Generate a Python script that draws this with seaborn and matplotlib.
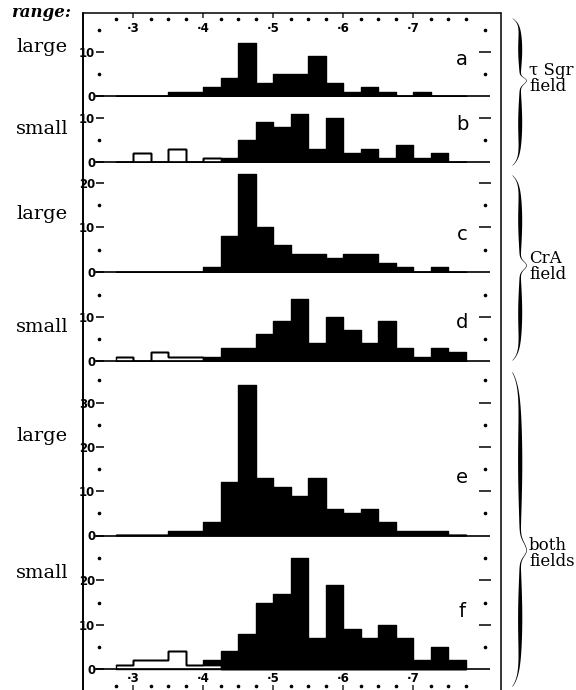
import numpy as np
import pandas as pd
import matplotlib
matplotlib.use("Agg")
import matplotlib.pyplot as plt
from matplotlib.transforms import blended_transform_factory
import seaborn as sns

sns.set_theme(style="white")
plt.rcParams["font.family"] = ["DejaVu Sans"]

# ---- data -----------------------------------------------------------------
# left edges of the magnitude bins (width 0.025)
bin_left = [0.275, 0.300, 0.325, 0.350, 0.375, 0.400, 0.425, 0.450, 0.475, 0.500,
            0.525, 0.550, 0.575, 0.600, 0.625, 0.650, 0.675, 0.700, 0.725, 0.750]
bin_width = 0.025

# counts per bin: filled (black) part and open (outlined) part
a_filled = [0, 0, 0, 1, 1, 2, 4, 12, 3, 5, 5, 9, 3, 1, 2, 1, 0, 1, 0, 0]
a_open   = [0, 0, 0, 0, 0, 0, 0, 0, 0, 0, 0, 0, 0, 0, 0, 0, 0, 0, 0, 0]
b_filled = [0, 0, 0, 0, 0, 0, 1, 5, 9, 8, 11, 3, 10, 2, 3, 1, 4, 1, 2, 0]
b_open   = [0, 2, 0, 3, 0, 1, 0, 0, 0, 0, 0, 0, 0, 0, 0, 0, 0, 0, 0, 0]
c_filled = [0, 0, 0, 0, 0, 1, 8, 22, 10, 6, 4, 4, 3, 4, 4, 2, 1, 0, 1, 0]
c_open   = [0, 0, 0, 0, 0, 0, 0, 0, 0, 0, 0, 0, 0, 0, 0, 0, 0, 0, 0, 0]
d_filled = [0, 0, 0, 0, 0, 1, 3, 3, 6, 9, 14, 4, 10, 7, 4, 9, 3, 1, 3, 2]
d_open   = [1, 0, 2, 1, 1, 0, 0, 0, 0, 0, 0, 0, 0, 0, 0, 0, 0, 0, 0, 0]
e_filled = [0, 0, 0, 1, 1, 3, 12, 34, 13, 11, 9, 13, 6, 5, 6, 3, 1, 1, 1, 0]
e_open   = [0, 0, 0, 0, 0, 0, 0, 0, 0, 0, 0, 0, 0, 0, 0, 0, 0, 0, 0, 0]
f_filled = [0, 0, 0, 0, 0, 1, 4, 8, 15, 17, 25, 7, 19, 9, 7, 10, 7, 2, 5, 2]
f_open   = [1, 2, 2, 4, 1, 1, 0, 0, 0, 0, 0, 0, 0, 0, 0, 0, 0, 0, 0, 0]

panel_letters = ["a", "b", "c", "d", "e", "f"]
range_words = ["large", "small", "large", "small", "large", "small"]
x_tick_values = [0.3, 0.4, 0.5, 0.6, 0.7]
x_tick_labels = ["\u00b73", "\u00b74", "\u00b75", "\u00b76", "\u00b77"]
x_minor_values = [0.275, 0.325, 0.35, 0.375, 0.425, 0.45, 0.475, 0.525, 0.55,
                  0.575, 0.625, 0.65, 0.675, 0.725, 0.75, 0.775]
field_names = ["\u03c4 Sgr\nfield", "CrA\nfield", "both\nfields"]

# ---- layout (pixels) --------------------------------------------------------
W, H = 576, 690
fig = plt.figure(figsize=(W / 100, H / 100), dpi=100)
frame_l, frame_r, frame_t = 82.5, 501.0, 13.0
x_lo, x_hi = 0.2274, 0.8253           # magnitude at frame edges
y_axis_x = 0.2467                     # where the y tick marks sit
base_x0, base_x1 = 0.2453, 0.8096     # extent of the zero lines
px_per_unit = 4.43

# (top, zero line, bottom) of each strip in pixels
strips = [(13, 96, 96), (96, 162.3, 162.3), (162.3, 271.7, 271.7),
          (271.7, 361, 361), (361, 535.5, 535.5), (535.5, 669, 690)]
major_ticks = [[0, 10], [0, 10], [0, 10, 20], [0, 10], [0, 10, 20, 30], [0, 10, 20]]
minor_ticks = [[5, 15], [5], [5, 15], [5, 15], [5, 15, 25, 35], [5, 15, 25]]
filled_sets = [a_filled, b_filled, c_filled, d_filled, e_filled, f_filled]
open_sets = [a_open, b_open, c_open, d_open, e_open, f_open]

edges = bin_left + [bin_left[-1] + bin_width]
centers = [v + bin_width / 2 for v in bin_left]
left_frac = (99 - frame_l) / (frame_r - frame_l)
right_frac = (484.5 - frame_l) / (frame_r - frame_l)

axes = []
for i, (top, base, bot) in enumerate(strips):
    ax = fig.add_axes([frame_l / W, 1 - bot / H, (frame_r - frame_l) / W, (bot - top) / H])
    ax.patch.set_visible(False)
    df = pd.DataFrame({
        "mag": centers + centers,
        "n": open_sets[i] + filled_sets[i],
        "kind": ["open"] * len(centers) + ["filled"] * len(centers),
    })
    # open counts form the bottom layer, filled counts are stacked above them
    sns.histplot(data=df, x="mag", weights="n", hue="kind", hue_order=["filled", "open"],
                 multiple="stack", bins=edges, element="step",
                 palette={"open": "white", "filled": "black"}, edgecolor="black",
                 linewidth=1.0, alpha=1, legend=False, ax=ax)
    ax.set_xlabel("")
    ax.set_ylabel("")
    ax.set_xlim(x_lo, x_hi)
    ax.set_ylim(-(bot - base) / px_per_unit, (base - top) / px_per_unit)
    for s in ax.spines.values():
        s.set_visible(False)
    ax.spines["left"].set_position(("data", y_axis_x))

    # zero line
    ax.hlines(0, base_x0, base_x1, color="black", lw=1.2, clip_on=False, zorder=5)

    # y ticks: labels inside the frame, dash after the number
    ax.set_yticks(major_ticks[i])
    ax.set_yticklabels([str(v) for v in major_ticks[i]])
    ax.tick_params(axis="y", which="major", left=True, right=False, direction="in",
                   length=5.8, width=1.1, pad=0.5, labelsize=8.5, colors="black")
    for t in ax.get_yticklabels():
        t.set_fontweight("bold")
    yt = blended_transform_factory(ax.transAxes, ax.transData)
    ax.plot([left_frac] * len(minor_ticks[i]), minor_ticks[i], transform=yt, ls="none",
            marker="o", ms=1.6, color="black", clip_on=False)
    ax.plot([right_frac] * len(minor_ticks[i]), minor_ticks[i], transform=yt, ls="none",
            marker="o", ms=1.6, color="black", clip_on=False)
    ax.plot([right_frac] * (len(major_ticks[i]) - 1), major_ticks[i][1:], transform=yt,
            ls="none", marker="_", ms=8, mew=1.1, color="black", clip_on=False)
    ax.set_xticks([])
    axes.append(ax)

# magnitude scale along the top and the bottom of the frame
ax_top, ax_bot = axes[0], axes[-1]
for ax, where in ((ax_top, "top"), (ax_bot, "bottom")):
    ax.set_xticks(x_tick_values)
    ax.tick_params(axis="x", which="major", top=(where == "top"), bottom=(where == "bottom"),
                   direction="in", length=3.6, width=1.1, labeltop=False, labelbottom=False)
    xt = blended_transform_factory(ax.transData, ax.transAxes)
    top, base, bot = strips[0] if where == "top" else strips[-1]
    if where == "top":
        lab_y = (bot - 28) / (bot - top)
        dot_y = (bot - 18.5) / (bot - top)
    else:
        lab_y = (bot - 678) / (bot - top)
        dot_y = (bot - 685.5) / (bot - top)
    for v, lab in zip(x_tick_values, x_tick_labels):
        ax.text(v, lab_y, lab, transform=xt, ha="center", va="center",
                fontsize=8.5, fontweight="bold", color="black")
    ax.plot(x_minor_values, [dot_y] * len(x_minor_values), transform=xt, ls="none",
            marker="o", ms=1.6, color="black", clip_on=False)

# ---- frame, side labels and braces (pixel coordinates) -----------------------
ov = fig.add_axes([0, 0, 1, 1])
ov.set_xlim(0, W)
ov.set_ylim(H, 0)
ov.axis("off")
ov.plot([frame_l, frame_l], [frame_t, H + 2], color="black", lw=1.4, clip_on=False)
ov.plot([frame_r, frame_r], [frame_t, H + 2], color="black", lw=1.1, clip_on=False)
ov.plot([frame_l, frame_r], [frame_t, frame_t], color="black", lw=1.1)

serif = ["DejaVu Serif"]
ov.text(41, 17, "range:", family=serif, style="italic", fontweight="bold", fontsize=12,
        ha="center", va="baseline", color="black")
word_base = [52, 134, 219, 332, 441, 578]
for w, yb in zip(range_words, word_base):
    ov.text(42, yb, w, family=serif, fontsize=14, ha="center", va="baseline", color="black")

letter_base = [65, 130, 240, 328, 483, 617]
for l, yb in zip(panel_letters, letter_base):
    ov.text(462, yb, l, fontsize=14, fontweight="medium", ha="center", va="baseline",
            color="black")


def curly_brace(ax, y_top, y_bot, y_tip, x_end, depth, thick):
    y = np.linspace(y_top, y_bot, 900)
    u = np.where(y <= y_tip, (y - y_top) / (y_tip - y_top), (y_bot - y) / (y_bot - y_tip))
    u = np.clip(u, 0, 1)
    xc = (x_end + 0.55 * depth * (1 - np.exp(-u / 0.08))
          + 0.45 * depth * np.exp(-((1 - u) / 0.06) ** 2))
    w = 0.6 + thick * np.sin(np.pi * u) ** 1.5
    ax.fill_betweenx(y, xc - w / 2, xc + w / 2, color="black", lw=0)


curly_brace(ov, 18, 165, 80, 512, 14, 3.4)
curly_brace(ov, 175, 360, 265, 512, 14, 3.4)
curly_brace(ov, 372, 686, 550, 512, 14, 3.6)

field_base = [75, 263, 550]
for name, yb in zip(field_names, field_base):
    first, second = name.split("\n")
    ov.text(529, yb, first, family=serif, fontsize=12, ha="left", va="baseline", color="black")
    ov.text(529, yb + 16, second, family=serif, fontsize=12, ha="left", va="baseline",
            color="black")

fig.savefig("out.png", dpi=100, facecolor="white")
